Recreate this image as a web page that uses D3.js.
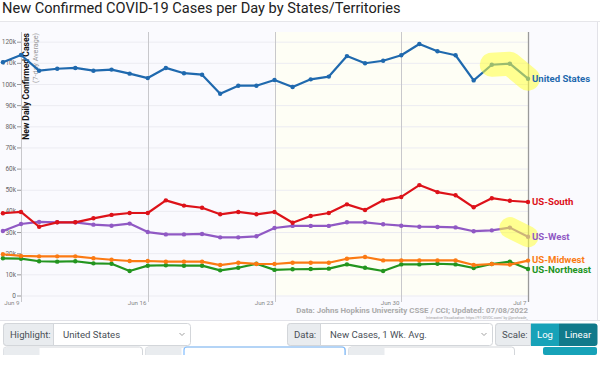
<!DOCTYPE html>
<html>
<head>
<meta charset="utf-8">
<script src="https://cdn.jsdelivr.net/npm/d3@7"></script>
<style>
  html, body { margin: 0; padding: 0; background: #fff; }
  svg { display: block; font-family: Roboto, "Noto Sans", sans-serif; }
</style>
</head>
<body>
<div id="chart"></div>
<script>
// days shown (Jun 8 .. Jul 7, 2022)
const days = d3.timeDays(new Date(2022, 5, 8), new Date(2022, 6, 8));
const tickDays = ["2022-06-09", "2022-06-16", "2022-06-23", "2022-06-30", "2022-07-07"];
const tickLabels = ["Jun 9", "Jun 16", "Jun 23", "Jun 30", "Jul 7"];
const yTicks = [0, 10000, 20000, 30000, 40000, 50000, 60000, 70000, 80000, 90000, 100000, 110000, 120000];

const seriesNames = ["United States", "US-South", "US-West", "US-Midwest", "US-Northeast"];
const seriesColors = ["#1f69ae", "#dd1219", "#9059c4", "#fb7a13", "#23951f"];

// values in thousands, one per day
const usValues = [110.3, 113.7, 106.3, 107.2, 107.6, 106.3, 106.8, 104.9, 102.8, 107.6, 105.1, 104.4, 95.4, 99.2, 99.2, 101.9, 98.6, 102.2, 103.5, 113.2, 109.8, 111.0, 113.6, 118.9, 115.5, 113.6, 101.7, 109.1, 109.6, 102.5];
const southValues = [38.9, 39.5, 32.5, 34.6, 34.6, 36.5, 38.1, 39.0, 39.0, 45.0, 42.5, 41.5, 38.4, 39.5, 38.4, 39.5, 34.4, 37.6, 39.0, 43.1, 40.4, 45.0, 46.6, 52.2, 48.9, 47.4, 41.7, 46.0, 44.8, 44.2];
const westValues = [30.5, 33.8, 34.8, 34.6, 34.6, 33.5, 33.0, 34.0, 30.0, 28.9, 28.9, 29.1, 27.5, 27.5, 28.0, 31.9, 32.9, 32.9, 32.9, 34.6, 34.6, 33.7, 33.0, 32.5, 32.4, 32.2, 30.4, 30.8, 32.1, 27.8];
const midwestValues = [19.5, 18.7, 18.5, 18.5, 18.5, 17.6, 16.9, 16.3, 16.3, 16.0, 16.0, 16.0, 14.4, 15.5, 14.9, 14.9, 15.5, 15.5, 15.5, 17.4, 18.2, 16.6, 16.6, 16.6, 16.6, 16.6, 14.4, 14.9, 14.6, 16.5];
const northeastValues = [17.6, 17.4, 16.2, 16.0, 16.2, 15.2, 15.0, 11.6, 14.1, 14.3, 14.1, 14.1, 11.9, 13.1, 15.0, 12.1, 12.4, 12.5, 12.7, 14.7, 13.1, 11.6, 14.7, 14.7, 15.0, 14.7, 13.0, 14.9, 16.0, 12.5];
const allValues = [usValues, southValues, westValues, midwestValues, northeastValues];

// highlighted tails (number of final points) per series
const highlightTail = [3, 0, 2, 0, 0];

const W = 600, H = 390;
const svg = d3.select("#chart").append("svg").attr("width", W).attr("height", H);

const parse = d3.timeParse("%Y-%m-%d");
const x = d3.scaleTime().domain([parse("2022-06-09"), parse("2022-07-07")]).range([21, 528]);
const y = d3.scaleLinear().domain([0, 120000]).range([295.5, 41.7]);
const plotTop = 32;

// title
svg.append("text").attr("x", 2).attr("y", 13)
  .attr("font-size", 14.6).attr("fill", "#222").attr("font-weight", 400)
  .text("New Confirmed COVID-19 Cases per Day by States/Territories");
svg.append("line").attr("x1", 0).attr("x2", W).attr("y1", 21.5).attr("y2", 21.5)
  .attr("stroke", "#e6e6ea");

// container background
svg.append("rect").attr("x", 0).attr("y", 22).attr("width", 597).attr("height", 298).attr("fill", "#fafafe");
svg.append("line").attr("x1", 597.5).attr("x2", 597.5).attr("y1", 22).attr("y2", 320).attr("stroke", "#e2e2e8");
svg.append("line").attr("x1", 0).attr("x2", W).attr("y1", 320.5).attr("y2", 320.5).attr("stroke", "#e2e2e8");

// recent two weeks shaded
svg.append("rect")
  .attr("x", x(parse("2022-06-23"))).attr("y", plotTop)
  .attr("width", x(parse("2022-07-07")) - x(parse("2022-06-23")))
  .attr("height", y(0) - plotTop).attr("fill", "#fefef5");

// horizontal grid + y axis
const yAxis = svg.append("g").attr("transform", "translate(21,0)")
  .call(d3.axisLeft(y).tickValues(yTicks).tickSize(4).tickFormat(d => d === 0 ? "0" : d3.format("~s")(d)));
yAxis.select(".domain").remove();
yAxis.selectAll(".tick line").attr("stroke", "#999");
yAxis.selectAll(".tick text").attr("font-size", 6.5).attr("fill", "#666").attr("x", -5)
  .style("font-family", "Roboto, sans-serif");
svg.append("g").selectAll("line").data(yTicks).join("line")
  .attr("x1", 21).attr("x2", 528)
  .attr("y1", d => y(d) + 0.5).attr("y2", d => y(d) + 0.5)
  .attr("stroke", "#ececf2").attr("stroke-width", 1);

// vertical week lines + x labels
const xg = svg.append("g");
tickDays.forEach((d, i) => {
  const xp = Math.round(x(parse(d))) + 0.5;
  xg.append("line").attr("x1", xp).attr("x2", xp).attr("y1", plotTop).attr("y2", 302)
    .attr("stroke", i === tickDays.length - 1 ? "#9a9a9a" : "#c8c8cc").attr("stroke-width", i === tickDays.length - 1 ? 1.3 : 1);
  xg.append("text").attr("x", xp - 2).attr("y", 305).attr("text-anchor", "end")
    .attr("font-size", 6.2).attr("fill", "#888").text(tickLabels[i]);
});

// y-axis title
svg.append("text").attr("transform", `translate(29,${plotTop + 1}) rotate(-90)`)
  .attr("text-anchor", "end").attr("font-size", 8.6).attr("font-weight", 700).attr("fill", "#111")
  .text("New Daily Confirmed Cases");
svg.append("text").attr("transform", `translate(37.5,${plotTop + 1}) rotate(-90)`)
  .attr("text-anchor", "end").attr("font-size", 7.2).attr("fill", "#999")
  .text("(7-day Average)");

// series lines, drawn bottom to top
const line = d3.line().x(d => x(d.date)).y(d => y(d.v * 1000));
const order = [4, 3, 2, 1, 0];
order.forEach(si => {
  const pts = days.map((dt, i) => ({ date: dt, v: allValues[si][i] }));
  const g = svg.append("g");
  g.append("path").datum(pts).attr("d", line).attr("fill", "none")
    .attr("stroke", seriesColors[si]).attr("stroke-width", 2.2).attr("stroke-linejoin", "round");
  g.selectAll("circle").data(pts).join("circle")
    .attr("cx", d => x(d.date)).attr("cy", d => y(d.v * 1000)).attr("r", 2.2)
    .attr("fill", seriesColors[si]);
  if (highlightTail[si] > 0) {
    const tail = pts.slice(-highlightTail[si]);
    svg.append("path").datum(tail).attr("d", line).attr("fill", "none")
      .attr("stroke", "#ffff3c").attr("stroke-opacity", 0.55)
      .attr("stroke-width", si === 0 ? 24 : 21).attr("stroke-linecap", "round").attr("stroke-linejoin", "round");
  }
});

// end labels
const labelOffsets = [0, 0, 0, -1, 1];
seriesNames.forEach((name, si) => {
  const v = allValues[si][allValues[si].length - 1];
  svg.append("text").attr("x", 532).attr("y", y(v * 1000) + 3.2 + labelOffsets[si])
    .attr("font-size", 9.6).attr("font-weight", 700).attr("fill", seriesColors[si])
    .text(name);
});

// source notes
svg.append("text").attr("x", 528).attr("y", 313).attr("text-anchor", "end")
  .attr("font-size", 7.9).attr("font-weight", 700).attr("fill", "#aaa")
  .text("Data: Johns Hopkins University CSSE / CCI; Updated: 07/08/2022");
svg.append("text").attr("x", 528).attr("y", 318.5).attr("text-anchor", "end")
  .attr("font-size", 3.6).attr("fill", "#999")
  .text("Interactive Visualization: https://91-DIVOC.com/ by @profwade_");

// controls row
const ctl = svg.append("g").attr("font-size", 9.6);
function group(x0, labelW, totalW, label, value, chevron) {
  ctl.append("rect").attr("x", x0 + 0.5).attr("y", 323.5).attr("width", totalW).attr("height", 22)
    .attr("rx", 3).attr("fill", "#fff").attr("stroke", "#d3d6da");
  ctl.append("path").attr("d", `M${x0 + 3.5},323.5 h${labelW - 3} v22 h-${labelW - 3} a3,3 0 0 1 -3,-3 v-16 a3,3 0 0 1 3,-3z`)
    .attr("fill", "#e9ecef").attr("stroke", "#d3d6da");
  ctl.append("text").attr("x", x0 + 7).attr("y", 337.5).attr("fill", "#495057").text(label);
  if (value) {
    ctl.append("text").attr("x", x0 + labelW + 10).attr("y", 337.5).attr("fill", "#495057").text(value);
  }
  if (chevron) {
    const cx = x0 + totalW - 8;
    ctl.append("path").attr("d", `M${cx - 2.5},333 l2.5,2.5 l2.5,-2.5`).attr("fill", "none").attr("stroke", "#888").attr("stroke-width", 0.8);
  }
}
group(3, 50, 187, "Highlight:", "United States", true);
group(287, 33, 205, "Data:", "New Cases, 1 Wk. Avg.", true);
group(495, 35, 35, "Scale:", null, false);
ctl.append("rect").attr("x", 531).attr("y", 323.5).attr("width", 28).attr("height", 22.5).attr("fill", "#17a2b8");
ctl.append("path").attr("d", "M559,323.5 h35.5 a3,3 0 0 1 3,3 v16.5 a3,3 0 0 1 -3,3 h-35.5z").attr("fill", "#117a8b");
ctl.append("text").attr("x", 545).attr("y", 337.5).attr("text-anchor", "middle").attr("fill", "#fff").text("Log");
ctl.append("text").attr("x", 578).attr("y", 337.5).attr("text-anchor", "middle").attr("fill", "#fff").text("Linear");

// second row (cut off)
const row2 = [[3, 139, "#d3d6da"], [145, 200, "#d3d6da"], [348, 166, "#d3d6da"]];
row2.forEach(r => {
  ctl.append("path").attr("d", `M${r[0] + 0.5},355 v-5 a3,3 0 0 1 3,-3 h${r[1] - 6} a3,3 0 0 1 3,3 v5`)
    .attr("fill", "#fff").attr("stroke", r[2]);
});
ctl.append("rect").attr("x", 3.5).attr("y", 347.5).attr("width", 36).attr("height", 8).attr("fill", "#e9ecef");
ctl.append("rect").attr("x", 145.5).attr("y", 347.5).attr("width", 36).attr("height", 8).attr("fill", "#e9ecef");
ctl.append("rect").attr("x", 348.5).attr("y", 347.5).attr("width", 36).attr("height", 8).attr("fill", "#e9ecef");
ctl.append("path").attr("d", "M184,355 v-5 a3,3 0 0 1 3,-3 h155 a3,3 0 0 1 3,3 v5")
  .attr("fill", "none").attr("stroke", "#80bdff").attr("stroke-width", 1.2);
ctl.append("rect").attr("x", 543).attr("y", 347).attr("width", 54).attr("height", 8).attr("rx", 2).attr("fill", "#17a2b8");
ctl.append("rect").attr("x", 0).attr("y", 355).attr("width", W).attr("height", 35).attr("fill", "#fff");
</script>
</body>
</html>
